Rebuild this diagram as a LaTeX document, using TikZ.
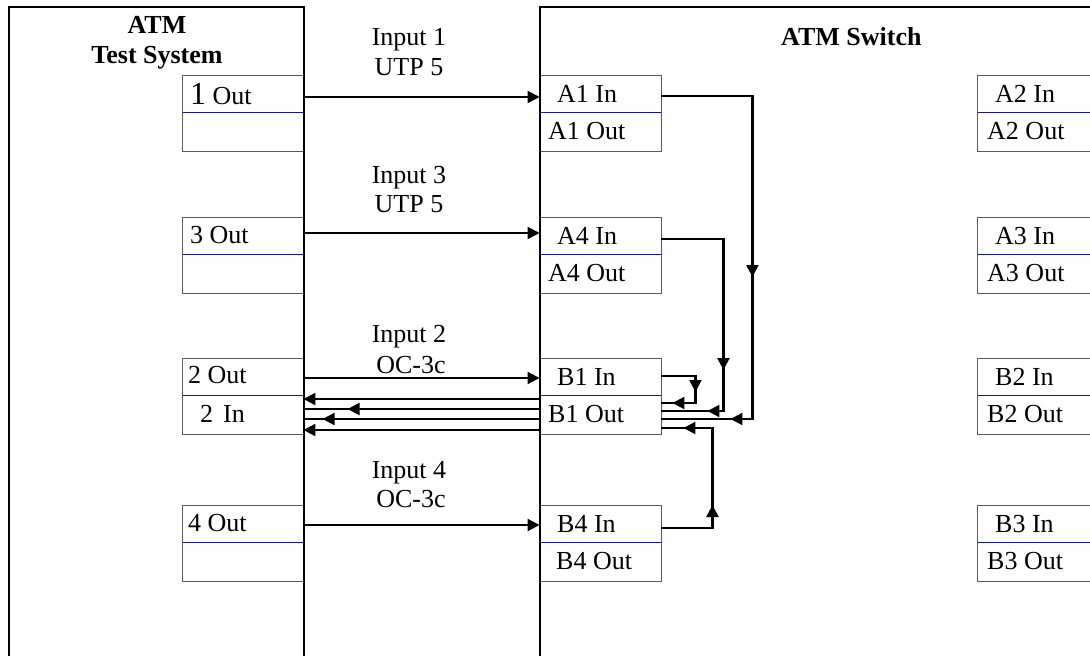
\documentclass[tikz,border=0pt]{standalone}
\usepackage{fontspec}
\setmainfont{Liberation Serif}
\usetikzlibrary{arrows.meta,decorations.markings,calc}
\definecolor{divblue}{RGB}{25,25,140}
\tikzset{
  port/.style={draw=black!65, line width=0.9pt, minimum width=121pt, minimum height=76pt, inner sep=0pt,
    path picture={\draw[divblue,line width=0.8pt] ([yshift=1pt]path picture bounding box.west) -- ([yshift=1pt]path picture bounding box.east);}},
  lbl/.style={anchor=base west, inner sep=0pt, font=\fontsize{26}{28}\selectfont},
  linktxt/.style={anchor=base, inner sep=0pt, font=\fontsize{26}{28}\selectfont},
  head/.style={inner sep=0pt, font=\bfseries\fontsize{26}{28}\selectfont},
  wire/.style={line width=2.2pt},
  tip/.style={wire, -{Triangle[length=12pt,width=12pt]}},
  arr/.style={postaction={decorate, decoration={markings, mark=at position #1 with {\arrow{Triangle[length=12pt,width=12pt]}}}}},
}
\begin{document}
\begin{tikzpicture}[x=1pt,y=-1pt]
\useasboundingbox (0,0) rectangle (1090,656);

% test system ports
\node[port] (t1) at (242.5,113) {};
\node[port] (t3) at (242.5,255) {};
\node[port] (t2) at (242.5,396) {};
\node[port] (t4) at (242.5,543) {};
\node[lbl] (t1o) at (190,104) {{\fontsize{32}{32}\selectfont 1} Out};
\node[lbl] (t3o) at (190,243) {3 Out};
\node[lbl] (t2o) at (188,383) {2 Out};
\node[lbl] (t2i) at (200,422) {2\hspace{10pt}In};
\node[lbl] (t4o) at (188,531) {4 Out};

% switch ports
\node[port] (a1) at (600.5,113) {};
\node[port] (a4) at (600.5,255) {};
\node[port] (b1) at (600.5,396) {};
\node[port] (b4) at (600.5,543) {};
\node[lbl] (a1i) at (557,102) {A1 In};
\node[lbl] (a1o) at (548,139) {A1 Out};
\node[lbl] (a4i) at (557,244) {A4 In};
\node[lbl] (a4o) at (548,281) {A4 Out};
\node[lbl] (b1i) at (557,385) {B1 In};
\node[lbl] (b1o) at (548,422) {B1 Out};
\node[lbl] (b4i) at (557,532) {B4 In};
\node[lbl] (b4o) at (556,569) {B4 Out};

\node[port] (a2) at (1037.5,113) {};
\node[port] (a3) at (1037.5,255) {};
\node[port] (b2) at (1037.5,396) {};
\node[port] (b3) at (1037.5,543) {};
\node[lbl] (a2i) at (995,102) {A2 In};
\node[lbl] (a2o) at (987,139) {A2 Out};
\node[lbl] (a3i) at (995,244) {A3 In};
\node[lbl] (a3o) at (987,281) {A3 Out};
\node[lbl] (b2i) at (995,385) {B2 In};
\node[lbl] (b2o) at (987,422) {B2 Out};
\node[lbl] (b3i) at (995,532) {B3 In};
\node[lbl] (b3o) at (987,569) {B3 Out};

% outer frames
\draw[wire] (9,660) -- (9,7) -- (304,7) -- (304,660);
\draw[wire] (540,660) -- (540,7) -- (1095,7);
\node[head, anchor=base] (tsys) at (157,33) {ATM};
\node[head, anchor=base] (tsys2) at (157,63) {Test System};
\node[head, anchor=base west] (swt) at (781,45) {ATM Switch};

% inputs
\node[linktxt] (in1) at (409,45) {Input 1};
\node[linktxt] (ca1) at (409,75) {UTP 5};
\draw[tip] ([yshift=16pt]t1.east) -- ([yshift=16pt]a1.west);
\node[linktxt] (in3) at (409,183) {Input 3};
\node[linktxt] (ca3) at (409,212) {UTP 5};
\draw[tip] ([yshift=22pt]t3.east) -- ([yshift=22pt]a4.west);
\node[linktxt] (in2) at (409,342) {Input 2};
\node[linktxt] (ca2) at (411,373) {OC-3c};
\draw[tip] ([yshift=18pt]t2.east) -- ([yshift=18pt]b1.west);
\node[linktxt] (in4) at (409,478) {Input 4};
\node[linktxt] (ca4) at (411,507) {OC-3c};
\draw[tip] ([yshift=18pt]t4.east) -- ([yshift=18pt]b4.west);

% back to B1 Out
\draw[wire, arr=272pt, arr=436pt] ([yshift=17pt]a1.east) -- ++(91,0) |- ([yshift=-23pt]b1.east);
\draw[wire, arr=193pt, arr=250pt] ([yshift=16pt]a4.east) -- ++(62,0) |- ([yshift=-15pt]b1.east);
\draw[wire, arr=50pt, arr=84pt] ([yshift=20pt]b1.east) -- ++(34,0) |- ([yshift=-7pt]b1.east);
\draw[wire, arr=74pt, arr=180pt] ([yshift=15pt]b4.east) -- ++(51,0) |- ([yshift=-32pt]b1.east);

% B1 out to 2 in
\draw[tip] ([yshift=-3pt]b1.west) -- ([yshift=-3pt]t2.east);
\draw[wire, arr=192pt] ([yshift=-13pt]b1.west) -- ([yshift=-13pt]t2.east);
\draw[wire, arr=217pt] ([yshift=-23pt]b1.west) -- ([yshift=-23pt]t2.east);
\draw[tip] ([yshift=-34pt]b1.west) -- ([yshift=-34pt]t2.east);
\end{tikzpicture}
\end{document}
